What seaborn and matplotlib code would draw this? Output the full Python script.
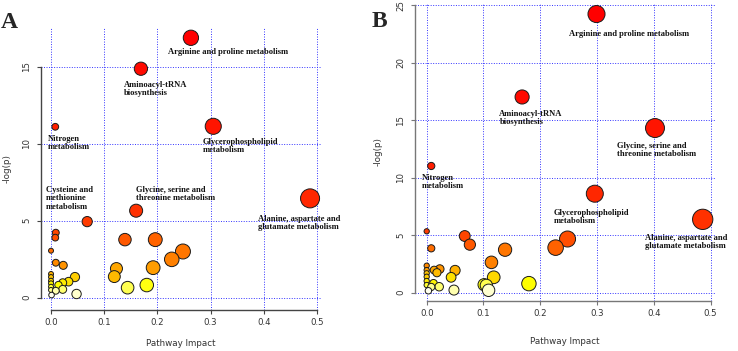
import numpy as np
import pandas as pd
import matplotlib
matplotlib.use("Agg")
import matplotlib.pyplot as plt
import seaborn as sns
from matplotlib.colors import hsv_to_rgb

sns.set_style("white")
plt.rcParams['font.family'] = ['DejaVu Sans']

DPI = 100

# Panel A data (pathway impact, -log(p))
a_impact = [0.263, 0.169, 0.305, 0.008, 0.487, 0.160, 0.068, 0.009, 0.008, 0.139,
            0.196, 0.000, 0.248, 0.227, 0.009, 0.023, 0.192, 0.123, 0.000, 0.119,
            0.000, 0.045, 0.000, 0.033, 0.022, 0.000, 0.014, 0.180, 0.000, 0.144,
            0.022, 0.000, 0.009, 0.048, 0.001]
a_logp = [16.88, 14.87, 11.13, 11.10, 6.45, 5.65, 4.94, 4.22, 3.90, 3.77,
          3.77, 3.05, 3.00, 2.49, 2.27, 2.10, 1.95, 1.89, 1.54, 1.37,
          1.34, 1.34, 1.10, 1.04, 0.97, 0.93, 0.82, 0.82, 0.71, 0.65,
          0.54, 0.50, 0.45, 0.24, 0.17]
a_names = ['Arginine and proline metabolism', 'Aminoacyl-tRNA\nbiosynthesis',
           'Nitrogen\nmetabolism', 'Glycerophospholipid\nmetabolism',
           'Cysteine and\nmethionine\nmetabolism',
           'Glycine, serine and\nthreonine metabolism',
           'Alanine, aspartate and\nglutamate metabolism']
a_name_x = [0.220, 0.137, -0.0062, 0.285, -0.0094, 0.160, 0.3885]
a_name_y = [15.97, 13.55, 10.05, 9.85, 6.45, 6.72, 4.85]

# Panel B data
b_impact = [0.299, 0.168, 0.402, 0.008, 0.296, 0.486, 0.000, 0.067, 0.248, 0.076,
            0.227, 0.008, 0.138, 0.114, 0.000, 0.023, 0.000, 0.013, 0.050, 0.018,
            0.000, 0.000, 0.118, 0.043, 0.000, 0.012, 0.180, 0.101, 0.000, 0.105,
            0.022, 0.008, 0.048, 0.109, 0.003]
b_logp = [24.23, 17.02, 14.32, 11.02, 8.61, 6.38, 5.34, 4.93, 4.67, 4.18,
          3.92, 3.86, 3.74, 2.64, 2.35, 2.06, 1.97, 1.97, 1.94, 1.74,
          1.69, 1.39, 1.34, 1.34, 1.02, 0.82, 0.79, 0.70, 0.67, 0.64,
          0.52, 0.50, 0.23, 0.21, 0.17]
b_names = ['Arginine and proline metabolism', 'Aminoacyl-tRNA\nbiosynthesis',
           'Glycine, serine and\nthreonine metabolism', 'Nitrogen\nmetabolism',
           'Glycerophospholipid\nmetabolism',
           'Alanine, aspartate and\nglutamate metabolism']
b_name_x = [0.2505, 0.128, 0.3356, -0.0088, 0.223, 0.385]
b_name_y = [22.5, 15.17, 12.43, 9.63, 6.58, 4.41]

x_ticks = [0.0, 0.1, 0.2, 0.3, 0.4, 0.5]
x_tick_labels = ['0.0', '0.1', '0.2', '0.3', '0.4', '0.5']
a_yticks = [0, 5, 10, 15]
b_yticks = [0, 5, 10, 15, 20, 25]


def heat_colors(n):
    # same ramp as R's heat.colors
    j = n // 4
    i = n - j
    cols = [hsv_to_rgb((h, 1, 1)) for h in np.linspace(0, 1 / 6, i)]
    if j > 0:
        sats = np.linspace(1 - 1 / (2 * j), 1 / (2 * j), j)
        cols += [hsv_to_rgb((1 / 6, s, 1)) for s in sats]
    return cols


def draw_panel(ax, impact, logp, xlim, ylim, yticks, names, nx, ny,
               spine_color, xlab_y, ylab_x):
    df = pd.DataFrame({'impact': impact, 'logp': logp})
    df = df.sort_values('logp', ascending=False).reset_index(drop=True)
    df['rank'] = [str(k) for k in range(len(df))]
    palette = dict(zip(df['rank'], heat_colors(len(df))))

    ax.set_xlim(xlim)
    ax.set_ylim(ylim)
    # circle radius in x units, scaled on sqrt(impact)
    sq = np.sqrt(df['impact'])
    span = sq.max() - sq.min()
    min_r, max_r = span / 150, span / 39
    r = min_r + (max_r - min_r) * (sq - sq.min()) / span
    fig_w = ax.figure.get_figwidth() * DPI
    px_per_unit = fig_w * ax.get_position().width / (xlim[1] - xlim[0])
    df['area'] = (2 * r * px_per_unit * 72 / DPI) ** 2
    amin, amax = df['area'].min(), df['area'].max()

    sns.scatterplot(data=df, x='impact', y='logp', hue='rank', palette=palette,
                    size='area', sizes=(amin, amax), size_norm=(amin, amax),
                    edgecolor='#1a1a1a', linewidth=0.7, legend=False,
                    ax=ax, zorder=3)
    ax.set_xlim(xlim)
    ax.set_ylim(ylim)

    ax.set_xticks(x_ticks)
    ax.set_xticklabels(x_tick_labels)
    ax.set_yticks(yticks)
    ax.set_yticklabels([str(v) for v in yticks], rotation=90, va='center')
    ax.grid(True, color='#3333ff', linestyle=(0, (1, 1.6)), linewidth=0.7)
    ax.set_axisbelow(True)

    for s in ['top', 'right']:
        ax.spines[s].set_visible(False)
    ax.spines['left'].set_bounds(0, yticks[-1])
    ax.spines['bottom'].set_bounds(0, 0.5)
    for s in ['left', 'bottom']:
        ax.spines[s].set_color(spine_color)
        ax.spines[s].set_linewidth(1.0)
    ax.tick_params(axis='both', direction='out', length=3, width=0.8,
                   color=spine_color, labelsize=6.2, labelcolor='#333333',
                   left=True, bottom=True)
    ax.tick_params(axis='x', pad=3)
    ax.tick_params(axis='y', pad=4)

    ax.set_xlabel('')
    ax.set_ylabel('')
    ax.text(0.5, xlab_y, 'Pathway Impact', transform=ax.transAxes,
            ha='center', va='center', fontsize=6.3, color='#333333')
    ax.text(ylab_x, 0.5, '-log(p)', transform=ax.transAxes, rotation=90,
            ha='center', va='center', fontsize=6.3, color='#333333')

    for name, x, y in zip(names, nx, ny):
        ax.text(x, y, name, ha='left', va='center', fontsize=6.1,
                family='Liberation Serif', weight='bold', color='#111111',
                linespacing=1.05, zorder=5)


fig = plt.figure(figsize=(7.38, 3.51), dpi=DPI)
W, H = 738, 351
ax_a = fig.add_axes([40.7 / W, 1 - 310 / H, 280 / W, 283.3 / H])
ax_b = fig.add_axes([415 / W, 1 - 301 / H, 300.2 / W, 298.1 / H])

draw_panel(ax_a, a_impact, a_logp, (-0.0194, 0.507), (-0.8, 17.6), a_yticks,
           a_names, a_name_x, a_name_y, '#444444', -0.12, -0.12)
draw_panel(ax_b, b_impact, b_logp, (-0.0206, 0.508), (-0.72, 25.2), b_yticks,
           b_names, b_name_x, b_name_y, '#777777', -0.1365, -0.123)

fig.text(9.5 / W, 1 - 23 / H, 'A', ha='center', va='center', fontsize=17,
         family='Liberation Serif', weight='bold')
fig.text(379.7 / W, 1 - 21.3 / H, 'B', ha='center', va='center', fontsize=17,
         family='Liberation Serif', weight='bold')

fig.savefig('out.png', dpi=DPI)
